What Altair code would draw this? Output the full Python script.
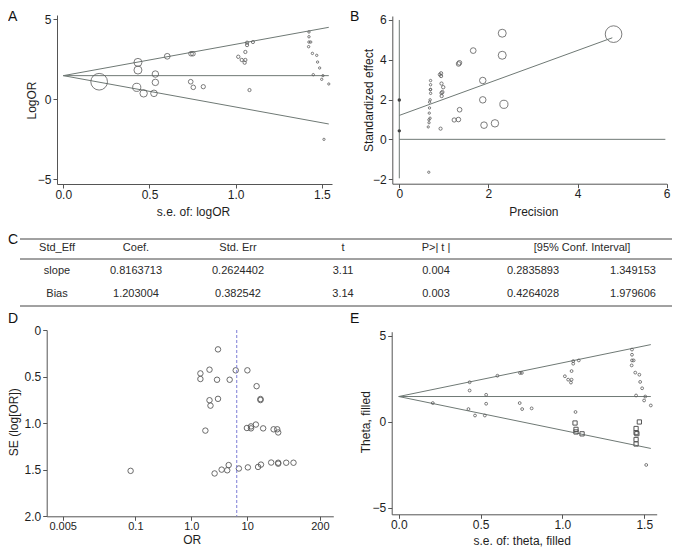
import altair as alt
import pandas as pd

# ---------------- values ----------------
# Studies (panel A): standard error and log odds ratio
study_se = [0.208, 0.433, 0.433, 0.426, 0.466, 0.526, 0.534, 0.534, 0.603,
            0.741, 0.752, 0.739, 0.754, 0.812,
            1.066, 1.066, 1.100, 1.056, 1.015, 1.035, 1.056, 1.052, 1.080,
            1.425, 1.425, 1.425, 1.435, 1.423, 1.445, 1.470, 1.475, 1.487,
            1.450, 1.506, 1.499, 1.540, 1.512]
study_logor = [1.10, 2.31, 1.83, 0.75, 0.375, 0.375, 1.58, 1.06, 2.69,
               2.85, 2.85, 1.10, 0.75, 0.79,
               3.54, 3.39, 3.58, 2.96, 2.66, 2.46, 2.46, 2.29, 0.58,
               4.21, 3.91, 3.58, 3.58, 3.29, 2.87, 2.75, 2.33, 1.96,
               1.54, 1.48, 1.25, 0.96, -2.50]

# Trim-and-fill imputed studies (panel E, squares)
fill_se = [1.077, 1.083, 1.083, 1.120, 1.470, 1.450, 1.450, 1.455, 1.450, 1.450]
fill_theta = [-0.06, -0.43, -0.58, -0.69, 0.00, -0.38, -0.62, -0.68, -1.02, -1.28]

# Funnel: pooled estimate and pseudo 95% limits (panels A and E)
funnel_se = [0.0, 1.54]
funnel_mid = [1.48, 1.48]
funnel_up = [1.48, 4.50]
funnel_lo = [1.48, -1.54]

# Egger regression (panel B)
egger_prec = [0.0, 4.78]
egger_z = [1.203, 5.105]
bias_ci = [0.426, 1.98]
b_vline_z = [-1.96, 6.0]
b_hline_prec = [0.0, 5.97]

# Panel D pooled OR (dashed line)
d_pooled_or = 6.5

# Table (panel C)
tbl_header = ["Std_Eff", "Coef.", "Std. Err", "t", "P>| t |", "[95% Conf. Interval]"]
row_slope = ["slope", "0.8163713", "0.2624402", "3.11", "0.004", "0.2835893", "1.349153"]
row_bias = ["Bias", "1.203004", "0.382542", "3.14", "0.003", "0.4264028", "1.979606"]

panel_letters = ["A", "B", "C", "D", "E"]

# ---------------- layout / style ----------------
FONT = "Liberation Sans"
W, H = 664, 540
AX = "#555555"
TXT = "#1e1e1e"
LINE = "#6f7975"
MK = "#5a5a5a"

header_x = [49, 128, 230, 335, 428, 574]
value_x = [49, 128, 230, 335, 428, 525, 625]
row_y = [240, 263, 285.5]
letter_x = [0, 342, 0, 0, 342]
letter_y = [13, 13, 236, 315, 315]


def xaxis(title, values, y_px, tx, ty, fmt=None, expr=None, lsize=12, lpad=1):
    kw = dict(orient="bottom", offset=y_px - H, values=values, title=title,
              titleX=tx, titleY=ty, titleAngle=0, titleAlign="center",
              titleBaseline="middle", grid=False, tickSize=4, labelPadding=lpad,
              domainColor=AX, tickColor=AX, domainWidth=1, tickWidth=1,
              labelFont=FONT, labelFontSize=lsize, labelColor=TXT,
              titleFont=FONT, titleFontSize=12, titleFontWeight="normal",
              titleColor=TXT, labelFlush=False, labelOverlap=False)
    if fmt:
        kw["format"] = fmt
    if expr:
        kw["labelExpr"] = expr
    return alt.Axis(**kw)


def yaxis(title, values, x_px, tx, ty, fmt=None, expr=None):
    kw = dict(orient="left", offset=-x_px, values=values, title=title,
              titleX=tx, titleY=ty, titleAngle=270, titleAlign="center",
              titleBaseline="middle", grid=False, tickSize=4, labelPadding=2,
              labelAngle=0, domainColor=AX, tickColor=AX, domainWidth=1, tickWidth=1,
              labelFont=FONT, labelFontSize=12, labelColor=TXT,
              titleFont=FONT, titleFontSize=12, titleFontWeight="normal",
              titleColor=TXT, labelFlush=False, labelOverlap=False)
    if fmt:
        kw["format"] = fmt
    if expr:
        kw["labelExpr"] = expr
    return alt.Axis(**kw)


study = pd.DataFrame({"se": study_se, "logor": study_logor})
filled = pd.DataFrame({"se": fill_se, "theta": fill_theta})
funnel = pd.DataFrame({
    "se": funnel_se * 3,
    "val": funnel_mid + funnel_up + funnel_lo,
    "which": ["mid"] * 2 + ["up"] * 2 + ["lo"] * 2,
})

# ---------------- Panel A ----------------
scA_x = alt.Scale(domain=[-0.0365, 1.5586], range=[49, 324], nice=False, zero=False)
scA_y = alt.Scale(domain=[-5.29, 5.27], range=[176, 7], nice=False, zero=False)

a_lines = alt.Chart(funnel).mark_line(color=LINE, strokeWidth=1).encode(
    x=alt.X("se:Q", scale=scA_x,
            axis=xaxis("s.e. of: logOR", [0, 0.5, 1, 1.5], 176, 185, 27.7, fmt=".1f")),
    y=alt.Y("val:Q", scale=scA_y,
            axis=yaxis("LogOR", [-5, 0, 5], 49, -25.3, 92, fmt="d")),
    detail="which:N")
a_pts = alt.Chart(study).transform_calculate(
    sz="12/(datum.se*datum.se)"
).mark_point(shape="circle", filled=False, color=MK, strokeWidth=0.8, opacity=1).encode(
    x=alt.X("se:Q", scale=scA_x, axis=None),
    y=alt.Y("logor:Q", scale=scA_y, axis=None),
    size=alt.Size("sz:Q", scale=None),
)

# ---------------- Panel B ----------------
scB_x = alt.Scale(domain=[-0.157, 6.0], range=[384.3, 658.7], nice=False, zero=False)
scB_y = alt.Scale(domain=[-2.23, 6.2], range=[175.7, 8], nice=False, zero=False)

b_pts = alt.Chart(study).transform_calculate(
    prec="1/datum.se", z="datum.logor/datum.se", sz="12/(datum.se*datum.se)"
).mark_point(shape="circle", filled=False, color=MK, strokeWidth=0.8, opacity=1).encode(
    x=alt.X("prec:Q", scale=scB_x,
            axis=xaxis("Precision", [0, 2, 4, 6], 175.7, 525.3, 28, fmt="d")),
    y=alt.Y("z:Q", scale=scB_y,
            axis=yaxis("Standardized effect", [-2, 0, 2, 4, 6], 384.3, -24, 92, fmt="d")),
    size=alt.Size("sz:Q", scale=None),
)
b_egger = alt.Chart(pd.DataFrame({"prec": egger_prec, "z": egger_z})).mark_line(
    color=LINE, strokeWidth=1).encode(x=alt.X("prec:Q", scale=scB_x, axis=None),
                                      y=alt.Y("z:Q", scale=scB_y, axis=None))
b_v = alt.Chart(pd.DataFrame({"prec": [0.0, 0.0], "z": b_vline_z})).mark_line(
    color=LINE, strokeWidth=1).encode(x=alt.X("prec:Q", scale=scB_x, axis=None),
                                      y=alt.Y("z:Q", scale=scB_y, axis=None))
b_h = alt.Chart(pd.DataFrame({"prec": b_hline_prec, "z": [0.0, 0.0]})).mark_line(
    color=LINE, strokeWidth=1).encode(x=alt.X("prec:Q", scale=scB_x, axis=None),
                                      y=alt.Y("z:Q", scale=scB_y, axis=None))
b_ci = alt.Chart(pd.DataFrame({"prec": [0.0, 0.0], "z": bias_ci})).mark_point(
    shape="circle", filled=True, color="#444444", size=12, opacity=1).encode(
    x=alt.X("prec:Q", scale=scB_x, axis=None), y=alt.Y("z:Q", scale=scB_y, axis=None))

# ---------------- Panel D ----------------
scD_x = alt.Scale(type="log", domain=[0.00259, 347], range=[38.7, 325.3], nice=False)
scD_y = alt.Scale(domain=[0, 2], range=[322, 508.3], nice=False, zero=False)

d_pts = alt.Chart(study).transform_calculate(
    OR="exp(datum.logor)"
).mark_point(shape="circle", filled=False, color=MK, size=30, strokeWidth=0.9, opacity=1).encode(
    x=alt.X("OR:Q", scale=scD_x,
            axis=xaxis("OR", [0.005, 0.1, 1, 10, 200], 508.3, 183.7, 23,
                       expr="datum.value == 1 ? '1.0' : format(datum.value, '~g')",
                       lsize=11, lpad=0)),
    y=alt.Y("se:Q", scale=scD_y,
            axis=yaxis("SE (log[OR])", [0, 0.5, 1, 1.5, 2], 38.7, -33.4, 413.7,
                       expr="datum.value == 0 ? '0' : format(datum.value, '.1f')")),
)
d_rule = alt.Chart(pd.DataFrame({"OR": [d_pooled_or], "y0": [0.0], "y1": [2.0]})).mark_rule(
    color="#7b7bd6", strokeDash=[3, 2], strokeWidth=1).encode(
    x=alt.X("OR:Q", scale=scD_x, axis=None), y=alt.Y("y0:Q", scale=scD_y, axis=None), y2="y1:Q")

# ---------------- Panel E ----------------
scE_x = alt.Scale(domain=[-0.043, 1.576], range=[383.7, 648.7], nice=False, zero=False)
scE_y = alt.Scale(domain=[-5.37, 5.25], range=[506.3, 323.7], nice=False, zero=False)

e_lines = alt.Chart(funnel).mark_line(color=LINE, strokeWidth=1).encode(
    x=alt.X("se:Q", scale=scE_x,
            axis=xaxis("s.e. of: theta, filled", [0, 0.5, 1, 1.5], 506.3, 513.7, 26.4, fmt=".1f")),
    y=alt.Y("val:Q", scale=scE_y,
            axis=yaxis("Theta, filled", [-5, 0, 5], 383.7, -26.7, 413.7, fmt="d")),
    detail="which:N")
e_pts = alt.Chart(study).mark_point(
    shape="circle", filled=False, color=MK, size=8, strokeWidth=0.8, opacity=1).encode(
    x=alt.X("se:Q", scale=scE_x, axis=None), y=alt.Y("logor:Q", scale=scE_y, axis=None))
e_fill = alt.Chart(filled).mark_point(
    shape="square", filled=False, color="#555555", size=18, strokeWidth=1, opacity=1).encode(
    x=alt.X("se:Q", scale=scE_x, axis=None), y=alt.Y("theta:Q", scale=scE_y, axis=None))

# ---------------- Panel C (table) ----------------
cells = []
for t, x in zip(tbl_header, header_x):
    cells.append({"t": t, "x": x, "y": row_y[0]})
for t, x in zip(row_slope, value_x):
    cells.append({"t": t, "x": x, "y": row_y[1]})
for t, x in zip(row_bias, value_x):
    cells.append({"t": t, "x": x, "y": row_y[2]})
tbl_text = alt.Chart(pd.DataFrame(cells)).mark_text(
    font=FONT, fontSize=11, color="#2a2a2a", align="center", baseline="middle").encode(
    x=alt.X("x:Q", scale=None, axis=None), y=alt.Y("y:Q", scale=None, axis=None), text="t:N")

rules = pd.DataFrame({"x0": [12, 12, 12], "x1": [664, 664, 664], "y": [231, 251, 298]})
tbl_rules = alt.Chart(rules).mark_rule(color="#444444", strokeWidth=1).encode(
    x=alt.X("x0:Q", scale=None, axis=None), x2="x1:Q",
    y=alt.Y("y:Q", scale=None, axis=None))

letters = alt.Chart(pd.DataFrame({"t": panel_letters, "x": letter_x, "y": letter_y})).mark_text(
    font=FONT, fontSize=14, color="#111111", align="left", baseline="alphabetic").encode(
    x=alt.X("x:Q", scale=None, axis=None), y=alt.Y("y:Q", scale=None, axis=None), text="t:N")

chart = alt.layer(
    a_lines, a_pts,
    b_pts, b_egger, b_v, b_h, b_ci,
    d_pts, d_rule,
    e_lines, e_pts, e_fill,
    tbl_rules, tbl_text, letters,
).resolve_scale(
    x="independent", y="independent"
).properties(
    width=W, height=H, padding=0, autosize=alt.AutoSizeParams(type="none")
).configure(font=FONT, background="white").configure_view(stroke=None)

chart.save("out.html", embed_options={"renderer": "svg", "actions": False})
